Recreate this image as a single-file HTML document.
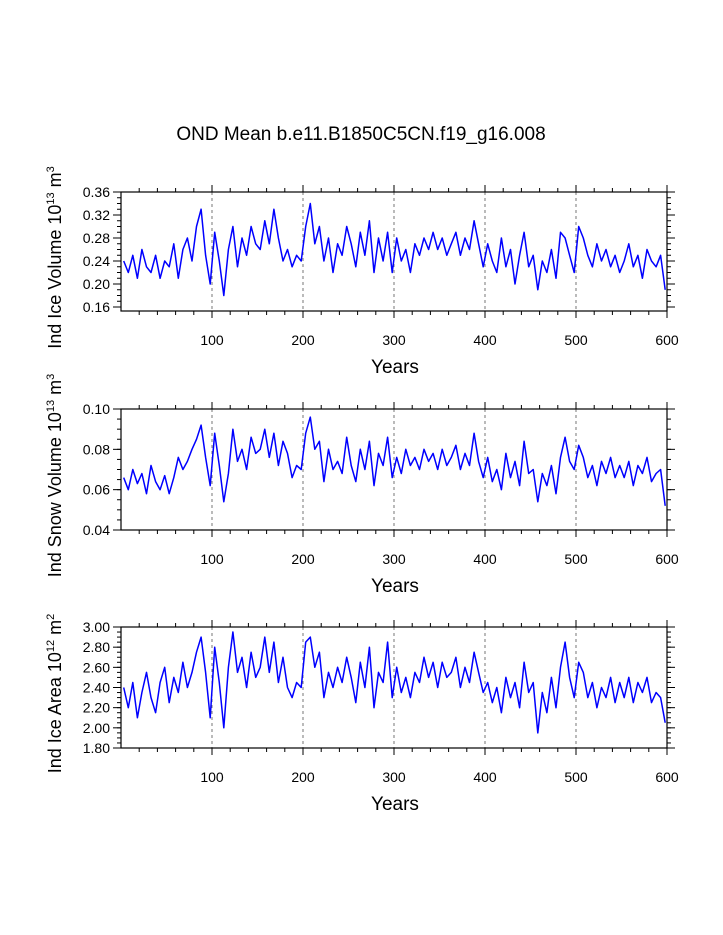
<!DOCTYPE html>
<html><head><meta charset="utf-8">
<style>
html,body{margin:0;padding:0;background:#fff;}
svg{display:block;font-family:"Liberation Sans",Arial,sans-serif;}
</style></head>
<body>
<svg id="chart" width="723" height="935" viewBox="0 0 723 935" xmlns="http://www.w3.org/2000/svg">
<text x="361" y="140" text-anchor="middle" font-size="19">OND Mean b.e11.B1850C5CN.f19_g16.008</text>
</svg>
<script>
const iceVolume = [
0.24,0.22,0.25,0.21,0.26,0.23,0.22,0.25,0.21,0.24,
0.23,0.27,0.21,0.26,0.28,0.24,0.30,0.33,0.25,0.20,
0.29,0.24,0.18,0.26,0.30,0.23,0.28,0.25,0.30,0.27,
0.26,0.31,0.27,0.33,0.28,0.24,0.26,0.23,0.25,0.24,
0.30,0.34,0.27,0.30,0.24,0.28,0.22,0.27,0.25,0.30,
0.27,0.23,0.29,0.25,0.31,0.22,0.28,0.24,0.29,0.22,
0.28,0.24,0.26,0.22,0.27,0.25,0.28,0.26,0.29,0.26,
0.28,0.25,0.27,0.29,0.25,0.28,0.26,0.31,0.27,0.23,
0.27,0.24,0.22,0.28,0.23,0.26,0.20,0.25,0.29,0.23,
0.25,0.19,0.24,0.22,0.26,0.21,0.29,0.28,0.25,0.22,
0.30,0.28,0.25,0.23,0.27,0.24,0.26,0.23,0.25,0.22,
0.24,0.27,0.23,0.25,0.21,0.26,0.24,0.23,0.25,0.19];
const snowVolume = [
0.066,0.060,0.070,0.063,0.068,0.058,0.072,0.064,0.060,0.067,
0.058,0.066,0.076,0.070,0.074,0.080,0.085,0.092,0.076,0.062,
0.088,0.072,0.054,0.068,0.090,0.074,0.080,0.070,0.086,0.078,
0.080,0.090,0.076,0.088,0.072,0.084,0.078,0.066,0.072,0.070,
0.088,0.096,0.080,0.084,0.064,0.080,0.070,0.074,0.068,0.086,
0.072,0.064,0.080,0.070,0.084,0.062,0.078,0.072,0.086,0.066,
0.076,0.068,0.080,0.072,0.076,0.070,0.080,0.074,0.078,0.070,
0.080,0.072,0.076,0.082,0.070,0.078,0.072,0.088,0.074,0.066,
0.076,0.064,0.070,0.060,0.078,0.066,0.074,0.062,0.084,0.068,
0.070,0.054,0.068,0.062,0.072,0.058,0.076,0.086,0.074,0.070,
0.082,0.076,0.066,0.072,0.062,0.074,0.068,0.076,0.066,0.072,
0.066,0.074,0.062,0.072,0.068,0.076,0.064,0.068,0.070,0.052];
const iceArea = [
2.40,2.20,2.45,2.10,2.35,2.55,2.30,2.15,2.45,2.60,
2.25,2.50,2.35,2.65,2.40,2.55,2.75,2.90,2.55,2.10,
2.80,2.45,2.00,2.60,2.95,2.55,2.70,2.40,2.75,2.50,
2.60,2.90,2.55,2.85,2.45,2.70,2.40,2.30,2.45,2.40,
2.85,2.90,2.60,2.75,2.30,2.55,2.40,2.60,2.45,2.70,
2.50,2.25,2.65,2.40,2.80,2.20,2.55,2.45,2.85,2.30,
2.60,2.35,2.50,2.30,2.55,2.45,2.70,2.50,2.65,2.40,
2.65,2.50,2.55,2.70,2.40,2.60,2.45,2.75,2.55,2.35,
2.45,2.25,2.40,2.15,2.50,2.30,2.45,2.20,2.65,2.35,
2.45,1.95,2.35,2.15,2.50,2.20,2.60,2.85,2.50,2.30,
2.65,2.55,2.30,2.45,2.20,2.40,2.30,2.50,2.25,2.45,
2.30,2.50,2.25,2.45,2.35,2.50,2.25,2.35,2.30,2.05];
const xTicks = [100,200,300,400,500,600];
const yTicks1 = ["0.16","0.20","0.24","0.28","0.32","0.36"];
const yTicks2 = ["0.04","0.06","0.08","0.10"];
const yTicks3 = ["1.80","2.00","2.20","2.40","2.60","2.80","3.00"];

const NS='http://www.w3.org/2000/svg';
const svg=document.getElementById('chart');
const X0=121, X1=667;
function xs(v){return X0+(v/600)*(X1-X0);}
function mk(tag,attrs,parent){const e=document.createElementNS(NS,tag);for(const k in attrs)e.setAttribute(k,attrs[k]);(parent||svg).appendChild(e);return e;}

const panels=[
 {data:iceVolume,ticks:yTicks1,vTop:0.36,vBot:0.16,pTop:192,pBot:307,fTop:192,fBot:311,minor:0.01,name:'ice-volume',title:['Ind Ice Volume 10','13',' m','3']},
 {data:snowVolume,ticks:yTicks2,vTop:0.10,vBot:0.04,pTop:409,pBot:530,fTop:409,fBot:530,minor:0.005,name:'snow-volume',title:['Ind Snow Volume 10','13',' m','3']},
 {data:iceArea,ticks:yTicks3,vTop:3.0,vBot:1.8,pTop:627,pBot:748,fTop:627,fBot:748,minor:0.05,name:'ice-area',title:['Ind Ice Area 10','12',' m','2']}
];

panels.forEach(p=>{
 const g=mk('g',{});
 
 
 const ys=v=>p.pTop+(p.vTop-v)/(p.vTop-p.vBot)*(p.pBot-p.pTop);
 xTicks.slice(0,5).forEach(t=>{
  const l=mk('line',{x1:xs(t),x2:xs(t),y1:p.fTop,y2:p.fBot,stroke:'#555','stroke-width':0.8,'stroke-dasharray':'3,3'},g);
  
  
 });
 let d='';
 p.data.forEach((v,i)=>{const yr=i*5+3;d+=(i?'L':'M')+xs(yr).toFixed(1)+','+ys(v).toFixed(1);});
 const path=mk('path',{d:d,fill:'none',stroke:'#0000ff','stroke-width':1.5,'stroke-linejoin':'round'},g);
 
 
 const fr=mk('rect',{x:X0,y:p.fTop,width:X1-X0,height:p.fBot-p.fTop,fill:'none',stroke:'#000','stroke-width':1.2},g);
 
 
 for(let t=20;t<=600;t+=20){
  const maj=t%100===0, L=maj?7:4;
  mk('line',{x1:xs(t),x2:xs(t),y1:p.fBot,y2:p.fBot+L,stroke:'#000','stroke-width':1},g);
  mk('line',{x1:xs(t),x2:xs(t),y1:p.fTop,y2:p.fTop-L,stroke:'#000','stroke-width':1},g);
 }
 xTicks.forEach(t=>{
  const tx=mk('text',{x:xs(t),y:p.fBot+34,'text-anchor':'middle','font-size':14},g);
  tx.textContent=t;
  
  
 });
 const xt=mk('text',{x:395,y:p.fBot+62,'text-anchor':'middle','font-size':19},g);
 xt.textContent='Years';
 
 
 for(let v=p.vBot;v<=p.vTop+1e-9;v+=p.minor){
  const y=ys(v);
  mk('line',{x1:X0,x2:X0-4,y1:y,y2:y,stroke:'#000','stroke-width':1},g);
  mk('line',{x1:X1,x2:X1+4,y1:y,y2:y,stroke:'#000','stroke-width':1},g);
 }
 p.ticks.forEach(s=>{
  const y=ys(parseFloat(s));
  mk('line',{x1:X0,x2:X0-8,y1:y,y2:y,stroke:'#000','stroke-width':1},g);
  mk('line',{x1:X1,x2:X1+8,y1:y,y2:y,stroke:'#000','stroke-width':1},g);
  const tx=mk('text',{x:X0-11,y:y+5,'text-anchor':'end','font-size':14},g);
  tx.textContent=s;
  
  
 });
 const cy=(p.fTop+p.fBot)/2+6;
 const yt=mk('text',{x:0,y:0,'text-anchor':'middle','font-size':18,transform:'translate(61,'+cy+') rotate(-90)'},g);
 
 
 const parts=p.title;
 const a=mk('tspan',{},yt);a.textContent=parts[0];
 const b=mk('tspan',{dy:-7,'font-size':11},yt);b.textContent=parts[1];
 const c=mk('tspan',{dy:7},yt);c.textContent=parts[2];
 const e=mk('tspan',{dy:-7,'font-size':11},yt);e.textContent=parts[3];
});
</script>
</body></html>
